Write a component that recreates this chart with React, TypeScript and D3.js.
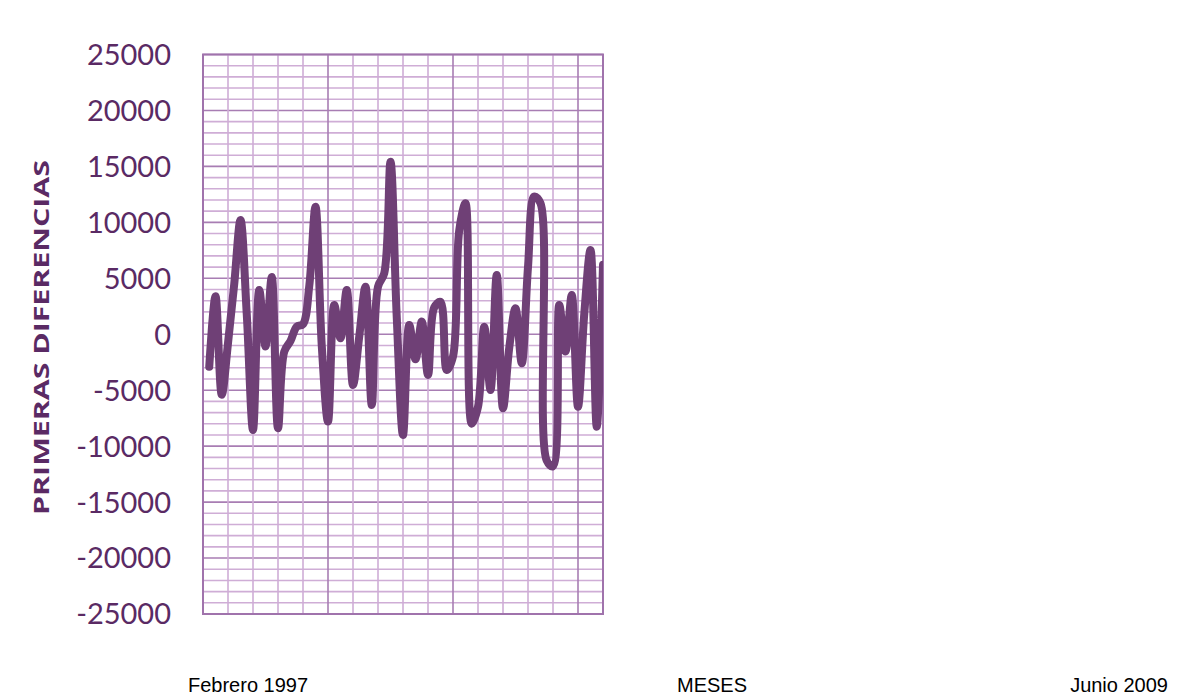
import { useEffect, useRef } from 'react';
import * as d3 from 'd3';

// primeras diferencias (one value per month)
const valores = [
  -2900, 3400, -5400, -800, 4500, 10200, 1800, -8550, 3960, -1100,
  5120, -8400, -1550, -600, 680, 900, 4300, 11400, -1000, -7800,
  2620, -360, 3960, -4530, -200, 4250, -6320, 4250, 5450, 15420,
  1500, -9000, 830, -2240, 1130, -3640, 2400, 2900, -3200, -2000,
  9300, 11700, -8000, -6500, 680, -4980, 5300, -6620, -1200, 2320,
  -2590, 6000, 12300, 11700, -11300, -11800, 2620, -1550, 3510, -6470,
  1800, 7530, -8260, 6200,
];

const yTicks = [25000, 20000, 15000, 10000, 5000, 0, -5000, -10000, -15000, -20000, -25000];
const bottomLabels = ['Febrero 1997', 'MESES', 'Junio 2009'];
const yTitle = 'PRIMERAS  DIFERENCIAS';

const W = 1187;
const H = 698;

export default function App() {
  const svgRef = useRef<SVGSVGElement>(null);

  useEffect(() => {
    if (!svgRef.current) return;
    const svg = d3.select(svgRef.current);
    svg.selectAll('*').remove();

    const margin = { left: 203, right: 584, top: 54.5, bottom: 84 };
    const innerW = W - margin.left - margin.right;
    const innerH = H - margin.top - margin.bottom;

    const x = d3.scaleLinear().domain([-1, valores.length - 1]).range([0, innerW]);
    const y = d3.scaleLinear().domain([-25000, 25000]).range([innerH, 0]);

    const g = svg.append('g').attr('transform', `translate(${margin.left},${margin.top})`);

    // minor / major grid, horizontal every 1000
    const hLines = d3.range(-25000, 25001, 1000);
    g.selectAll('.hgrid')
      .data(hLines)
      .enter().append('line')
      .attr('x1', 0).attr('x2', innerW)
      .attr('y1', d => y(d)).attr('y2', d => y(d))
      .attr('stroke', d => (d % 5000 === 0 ? '#a87db3' : '#cfadd6'))
      .attr('stroke-width', 1.6);

    // vertical every 4 months
    const vLines = d3.range(-1, valores.length, 4);
    g.selectAll('.vgrid')
      .data(vLines)
      .enter().append('line')
      .attr('x1', d => x(d)).attr('x2', d => x(d))
      .attr('y1', 0).attr('y2', innerH)
      .attr('stroke', (_, i) => (i % 5 === 0 ? '#a87db3' : '#cfadd6'))
      .attr('stroke-width', 1.6);

    g.append('rect')
      .attr('width', innerW).attr('height', innerH)
      .attr('fill', 'none')
      .attr('stroke', '#a073ac')
      .attr('stroke-width', 2);

    svg.append('clipPath').attr('id', 'plotclip')
      .append('rect').attr('width', innerW).attr('height', innerH);

    const line = d3.line<number>()
      .x((_, i) => x(i))
      .y(d => y(d))
      .curve(d3.curveCatmullRom.alpha(0.5));

    g.append('path')
      .datum(valores)
      .attr('clip-path', 'url(#plotclip)')
      .attr('d', line)
      .attr('fill', 'none')
      .attr('stroke', '#6f4076')
      .attr('stroke-width', 8)
      .attr('stroke-linejoin', 'round')
      .attr('stroke-linecap', 'round');

    // y tick labels
    g.selectAll('.ylab')
      .data(yTicks)
      .enter().append('text')
      .attr('x', -32)
      .attr('y', d => y(d))
      .attr('dy', '0.36em')
      .attr('text-anchor', 'end')
      .attr('font-family', 'Lato, "Open Sans", sans-serif')
      .attr('font-size', 29)
      .attr('fill', '#5a2a64')
      .text(d => d);

    // y title, stretched lengthwise like the original
    const title = svg.append('text')
      .attr('text-anchor', 'middle')
      .attr('font-family', '"Open Sans", "DejaVu Sans", sans-serif')
      .attr('font-weight', 700)
      .attr('font-size', 21)
      .attr('fill', '#5a2a64')
      .text(yTitle);
    const len = (title.node() as SVGTextElement).getComputedTextLength() || 355;
    title.attr('transform', `translate(48.5,337.5) rotate(-90) scale(${355 / len},1)`);

    // bottom labels
    const anchors = ['start', 'middle', 'end'];
    const xs = [188, 712, 1168];
    svg.selectAll('.blab')
      .data(bottomLabels)
      .enter().append('text')
      .attr('x', (_, i) => xs[i])
      .attr('y', 692)
      .attr('text-anchor', (_, i) => anchors[i])
      .attr('font-family', '"Liberation Sans", Arial, sans-serif')
      .attr('font-size', 20)
      .attr('fill', '#000')
      .text(d => d);
  }, []);

  return (
    <div style={{ position: 'absolute', left: 0, top: 0, width: W, height: H, background: '#fff' }}>
      <svg ref={svgRef} width={W} height={H} />
    </div>
  );
}
